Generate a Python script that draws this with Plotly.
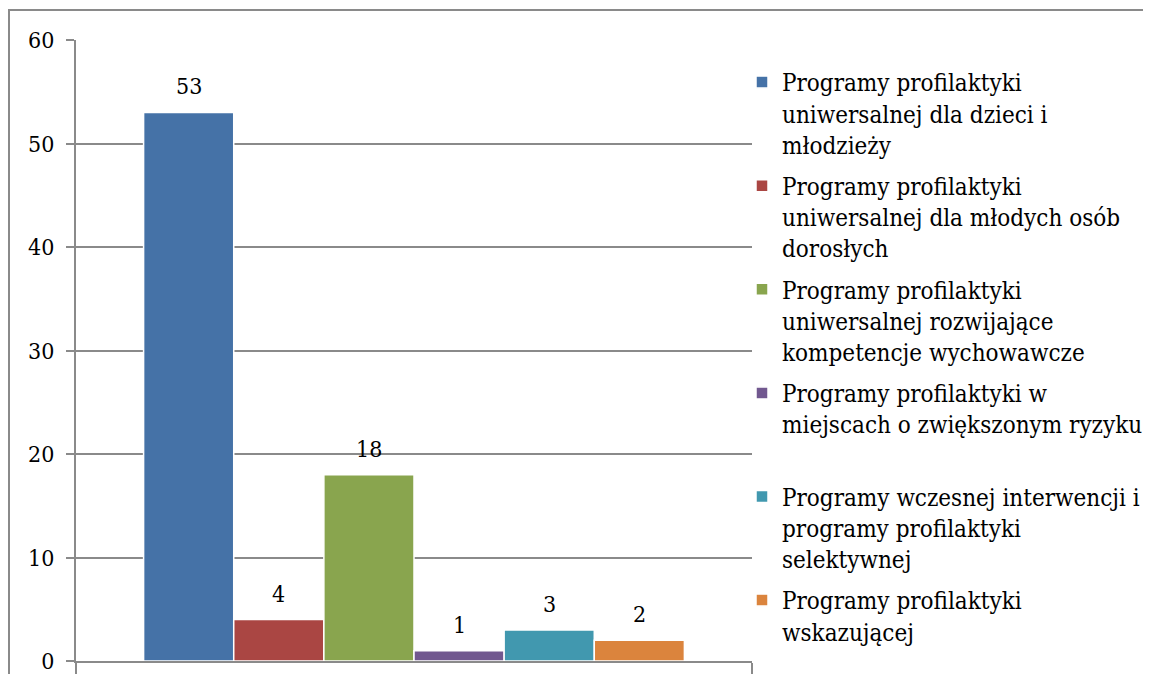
import plotly.graph_objects as go

# ---- data ----
series_names = [
    "Programy profilaktyki<br>uniwersalnej dla dzieci i<br>młodzieży",
    "Programy profilaktyki<br>uniwersalnej dla młodych osób<br>dorosłych",
    "Programy profilaktyki<br>uniwersalnej rozwijające<br>kompetencje wychowawcze",
    "Programy profilaktyki w<br>miejscach o zwiększonym ryzyku<br> ",
    "Programy wczesnej interwencji i<br>programy profilaktyki<br>selektywnej",
    "Programy profilaktyki<br>wskazującej",
]
values = [53, 4, 18, 1, 3, 2]
colors = ["#4572A7", "#AA4643", "#89A54E", "#71588F", "#4198AF", "#DB843D"]
category = [" "]
y_ticks = [0, 10, 20, 30, 40, 50, 60]

# ---- layout constants (page body has an 8px margin) ----
W, H = 1151, 674
ML, MT = 68, 32
plot_w, plot_h = 676, 621
MR = W - ML - plot_w
MB = H - MT - plot_h
bargap = 0.2
bar_px = plot_w * (1 - bargap) / len(values)
FONT = "DejaVu Serif Condensed"
GRID = "#8a8a8a"

fig = go.Figure()
for i, (name, v, c) in enumerate(zip(series_names, values, colors)):
    fig.add_trace(go.Bar(
        x=category, y=[v], name=name, legendgroup=f"g{i}",
        marker=dict(color=c, line=dict(color="white", width=1.5)),
    ))
    fig.add_annotation(
        x=category[0], y=v, xref="x", yref="y",
        text=str(v), showarrow=False,
        xshift=(i - (len(values) - 1) / 2) * bar_px,
        yshift=26, yanchor="middle",
        font=dict(family=FONT, size=23, color="black"),
    )

# outer frame (cropped at right and bottom)
fig.add_shape(
    type="rect", xref="paper", yref="paper",
    x0=(1 - ML) / plot_w, x1=(W + 50 - ML) / plot_w,
    y0=-(60) / plot_h, y1=(MT + plot_h - 2) / plot_h,
    line=dict(color=GRID, width=2), fillcolor="rgba(0,0,0,0)",
)

fig.update_layout(
    width=W, height=H,
    margin=dict(l=ML, r=MR, t=MT, b=MB, autoexpand=False),
    paper_bgcolor="white", plot_bgcolor="white",
    barmode="group", bargap=bargap, bargroupgap=0,
    font=dict(family=FONT, size=23, color="black"),
    showlegend=True,
    legend=dict(
        x=(734 - ML) / plot_w, xanchor="left",
        y=(MT + plot_h - 52) / plot_h, yanchor="top",
        valign="top",
        font=dict(family=FONT, size=24, color="black"),
        bgcolor="rgba(0,0,0,0)", borderwidth=0,
        traceorder="grouped", tracegroupgap=7,
    ),
    xaxis=dict(
        showline=True, linecolor=GRID, linewidth=2,
        showticklabels=False, ticks="outside", tickson="boundaries",
        ticklen=13, tickcolor=GRID, tickwidth=2,
        showgrid=False, zeroline=False, fixedrange=True,
    ),
    yaxis=dict(
        range=[0, 60], tickvals=y_ticks,
        showline=True, linecolor=GRID, linewidth=2,
        ticks="outside", ticklen=8, tickcolor=GRID, tickwidth=2,
        showgrid=True, gridcolor=GRID, gridwidth=1.5,
        zeroline=False, ticklabelstandoff=7,
        tickfont=dict(family=FONT, size=23, color="black"),
    ),
)

fig.write_html("out.html")
